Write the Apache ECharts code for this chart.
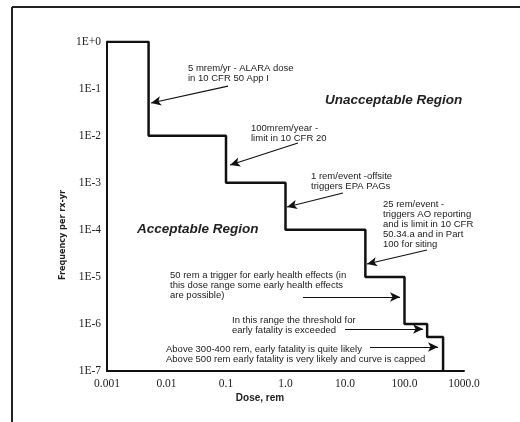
<!DOCTYPE html>
<html>
<head>
<meta charset="utf-8">
<script src="https://cdn.jsdelivr.net/npm/echarts@6/dist/echarts.min.js"></script>
<style>
  html, body { margin: 0; padding: 0; background: #fff; }
  #chart { width: 520px; height: 422px; }
</style>
</head>
<body>
<div id="chart"></div>
<script>
// Step curve: dose (rem) where each frequency level ends, and the frequency level (per rx-yr)
const doses = [0.001, 0.005, 0.1, 1, 22, 100, 240, 445];
const freqs = [1, 1e-2, 1e-3, 1e-4, 1e-5, 1e-6, 5.3e-7, 1e-7];

// Tick labels
const xTickLabels = ['0.001', '0.01', '0.1', '1.0', '10.0', '100.0', '1000.0'];
const yTickLabels = ['1E-7', '1E-6', '1E-5', '1E-4', '1E-3', '1E-2', '1E-1', '1E+0'];

// Annotation arrows in data coordinates [dose, frequency]
const arrowTails = [[0.108, 0.114], [1.62, 0.00703], [9.25, 6.08e-4], [239, 3.73e-5], [1.97, 3.74e-6], [10, 7.8e-7], [26.3, 3.24e-7]];
const arrowHeads = [[0.0055, 0.0497], [0.117, 0.00239], [1.06, 3.06e-4], [23.4, 1.88e-5], [84, 3.74e-6], [205, 7.8e-7], [366, 3.24e-7]];

// Annotation texts
const noteTexts = [
  '5 mrem/yr - ALARA dose\nin 10 CFR 50 App I',
  '100mrem/year -\nlimit in 10 CFR 20',
  '1 rem/event -offsite\ntriggers EPA PAGs',
  '25 rem/event -\ntriggers AO reporting\nand is limit in 10 CFR\n50.34.a and in Part\n100 for siting',
  '50 rem a trigger for early health effects (in\nthis dose range some early health effects\nare possible)',
  'In this range the threshold for\nearly fatality is exceeded',
  'Above 300-400 rem, early fatality is quite likely\nAbove 500 rem early fatality is very likely and curve is capped'
];
const regionTexts = ['Unacceptable Region', 'Acceptable Region'];

const chart = echarts.init(document.getElementById('chart'), null, { renderer: 'canvas' });

const curve = doses.map((d, i) => [d, freqs[i]]);
const arrows = arrowTails.map((t, i) => [{ coord: t }, { coord: arrowHeads[i] }]);

const noteFont = "9.5px 'Liberation Sans', Arial, sans-serif";
const notePos = [[188, 63], [251, 123], [311, 171], [383, 199], [170, 270], [232, 315], [166, 344]];
const regionFont = "italic bold 13.5px 'Liberation Sans', Arial, sans-serif";
const regionPos = [[325, 100], [137, 229]];

const graphics = [
  { type: 'line', shape: { x1: 12, y1: 7, x2: 520, y2: 7 }, style: { stroke: '#222', lineWidth: 2 } },
  { type: 'line', shape: { x1: 12, y1: 7, x2: 12, y2: 422 }, style: { stroke: '#222', lineWidth: 2 } },
  { type: 'text', x: 260, y: 398, style: { text: 'Dose, rem', font: "bold 10px 'Liberation Sans', Arial, sans-serif", fill: '#222', textAlign: 'center', textVerticalAlign: 'middle' } },
  { type: 'text', x: 63, y: 235, rotation: Math.PI / 2, style: { text: 'Frequency per rx-yr', font: "bold 9px 'Liberation Sans Narrow', 'DejaVu Sans Condensed', sans-serif", fill: '#222', textAlign: 'center', textVerticalAlign: 'middle' } }
];
noteTexts.forEach((t, i) => {
  graphics.push({ type: 'text', x: notePos[i][0], y: notePos[i][1], style: { text: t, font: noteFont, lineHeight: 10, fill: '#222', textAlign: 'left', textVerticalAlign: 'top' } });
});
regionTexts.forEach((t, i) => {
  graphics.push({ type: 'text', x: regionPos[i][0], y: regionPos[i][1], style: { text: t, font: regionFont, fill: '#222', textAlign: 'left', textVerticalAlign: 'middle' } });
});

chart.setOption({
  animation: false,
  backgroundColor: '#fff',
  grid: { left: 107, top: 41.7, right: 56, bottom: 51, containLabel: false },
  xAxis: {
    type: 'log', logBase: 10, min: 0.001, max: 1000,
    axisLine: { show: true, onZero: false, lineStyle: { color: '#111', width: 2 } },
    axisTick: { show: false },
    splitLine: { show: false },
    axisLabel: {
      margin: 7,
      fontFamily: "'Liberation Serif', 'Times New Roman', serif",
      fontSize: 11.5, color: '#222',
      formatter: v => xTickLabels[Math.round(Math.log10(v)) + 3]
    }
  },
  yAxis: {
    type: 'log', logBase: 10, min: 1e-7, max: 1,
    axisLine: { show: true, lineStyle: { color: '#111', width: 2 } },
    axisTick: { show: false },
    splitLine: { show: false },
    axisLabel: {
      margin: 6,
      fontFamily: "'Liberation Serif', 'Times New Roman', serif",
      fontSize: 11.5, color: '#222',
      formatter: v => yTickLabels[Math.round(Math.log10(v)) + 7]
    }
  },
  series: [{
    type: 'line',
    step: 'end',
    data: curve,
    symbol: 'none',
    lineStyle: { color: '#111', width: 2.5 },
    silent: true,
    markLine: {
      silent: true,
      symbol: ['none', 'arrow'],
      symbolSize: [7, 10],
      label: { show: false },
      lineStyle: { color: '#111', width: 1.2, type: 'solid' },
      data: arrows
    }
  }],
  graphic: graphics
});
</script>
</body>
</html>
